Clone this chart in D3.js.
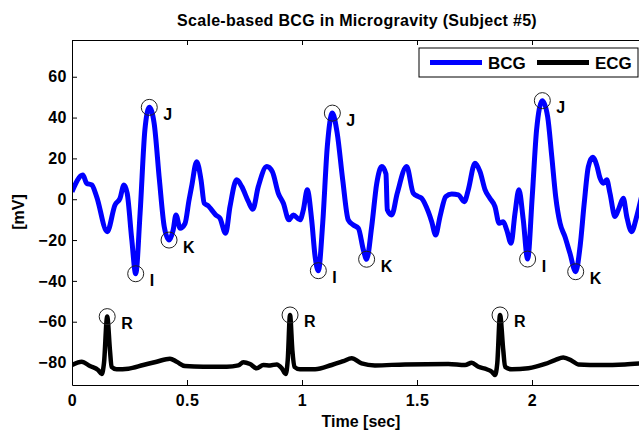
<!DOCTYPE html>
<html>
<head>
<meta charset="utf-8">
<script src="https://cdn.jsdelivr.net/npm/d3@7"></script>
<style>
  body { margin: 0; background: #fff; }
  svg text { font-family: "Liberation Sans", Arial, Helvetica, sans-serif; font-weight: bold; fill: #000; }
</style>
</head>
<body>
<script>
// time [sec], value [mV]
const bcgPoints = [
  [0, 3.7], [0.047, 11.9], [0.064, 7.8], [0.086, 7.0], [0.107, 1.3], [0.153, -15.9],
  [0.187, -2.8], [0.209, 0.5], [0.226, 7.0], [0.240, 2.9], [0.260, -19.9], [0.277, -36.5],
  [0.296, -6.9], [0.317, 34.0], [0.336, 45.0], [0.357, 37.3], [0.380, 9.5], [0.401, -13.4],
  [0.422, -20.0], [0.440, -15.0], [0.452, -7.7], [0.470, -14.2], [0.491, -12.0], [0.509, -0.3],
  [0.520, 6.2], [0.542, 18.4], [0.561, 9.5], [0.575, -2.0], [0.593, -3.3], [0.607, -5.2],
  [0.625, -7.7], [0.643, -9.3], [0.668, -16.7], [0.687, -3.6], [0.716, 9.5], [0.738, 6.2],
  [0.767, -1.2], [0.786, -4.9], [0.810, 6.2], [0.847, 16.0], [0.871, 13.5], [0.897, 2.9],
  [0.919, -2.0], [0.943, -10.1], [0.962, -7.7], [0.991, -10.1], [1.006, -5.2], [1.023, 4.6],
  [1.042, -10.1], [1.057, -28.1], [1.071, -35.0], [1.090, -11.8], [1.110, 25.8], [1.132, 42.2],
  [1.153, 32.4], [1.177, 9.5], [1.201, -10.1], [1.223, -12.6], [1.245, -14.2], [1.267, -24.9],
  [1.281, -29.4], [1.303, -13.4], [1.325, 7.8], [1.347, 16.0], [1.365, 12.4], [1.371, -5.2],
  [1.390, -7.7], [1.414, 2.9], [1.455, 16.0], [1.484, 2.9], [1.506, 1.3], [1.520, 0.5],
  [1.549, -6.1], [1.564, -11.0], [1.581, -17.5], [1.600, -8.5], [1.625, 1.3], [1.651, 2.6],
  [1.680, 2.1], [1.706, -1.2], [1.723, 4.6], [1.752, 17.6], [1.774, 13.5], [1.796, 4.6],
  [1.817, 0.5], [1.839, -3.6], [1.857, -11.8], [1.875, -11.0], [1.890, -15.0], [1.909, -21.6],
  [1.926, -6.9], [1.943, 4.6], [1.962, -10.1], [1.981, -29.3], [2.001, 1.3], [2.020, 34.0],
  [2.045, 48.3], [2.068, 40.5], [2.086, 20.9], [2.103, 1.3], [2.122, -11.8], [2.143, -18.3],
  [2.165, -26.5], [2.190, -35.5], [2.209, -23.2], [2.227, -2.0], [2.245, 16.0], [2.264, 20.6],
  [2.281, 16.8], [2.296, 10.3], [2.310, 7.8], [2.325, 9.5], [2.339, 2.9], [2.361, -8.5],
  [2.378, -4.4], [2.397, 0.5], [2.412, -8.5], [2.433, -15.9], [2.455, -8.5], [2.478, 2.1]
]

const ecgPoints = [
  [0, -81.2], [0.042, -79.6], [0.078, -81.7], [0.114, -83.7], [0.129, -85.6], [0.139, -80.4],
  [0.153, -57.5], [0.165, -73.9], [0.172, -82.1], [0.194, -83.3], [0.245, -83.0], [0.310, -81.2],
  [0.368, -79.6], [0.426, -78.1], [0.455, -79.6], [0.491, -81.7], [0.571, -82.1], [0.673, -82.1],
  [0.723, -81.4], [0.745, -79.8], [0.774, -80.7], [0.803, -82.8], [0.832, -81.2], [0.861, -81.4],
  [0.890, -80.9], [0.912, -82.8], [0.929, -85.6], [0.938, -78.8], [0.948, -56.7], [0.958, -73.9],
  [0.967, -82.1], [0.991, -83.3], [1.057, -83.3], [1.129, -81.2], [1.180, -79.3], [1.216, -77.9],
  [1.259, -80.4], [1.317, -81.4], [1.448, -80.9], [1.636, -80.7], [1.709, -81.2], [1.738, -80.1],
  [1.767, -82.1], [1.803, -83.3], [1.825, -84.5], [1.839, -86.1], [1.849, -80.4], [1.861, -56.7],
  [1.875, -73.9], [1.883, -82.1], [1.912, -83.3], [1.984, -82.8], [2.057, -80.7], [2.100, -78.8],
  [2.136, -77.5], [2.173, -79.1], [2.201, -80.9], [2.303, -81.2], [2.404, -80.9], [2.478, -80.4]
]

// circled points
const peakLabels = ['J', 'I', 'K', 'J', 'I', 'K', 'J', 'I', 'K', 'R', 'R', 'R']
const peakTimes = [0.336, 0.277, 0.422, 1.132, 1.071, 1.281, 2.045, 1.981, 2.190, 0.153, 0.948, 1.861]
const peakValues = [45.0, -36.5, -20.0, 42.2, -35.0, -29.4, 48.3, -29.3, -35.5, -57.5, -56.7, -56.7]

const xTicks = [0, 0.5, 1, 1.5, 2]
const yTicks = [-80, -60, -40, -20, 0, 20, 40, 60]
const seriesNames = ['BCG', 'ECG']
const seriesColors = ['#0000ff', '#000000']

const W = 639, H = 430
const mLeft = 72, mTop = 40, mRight = 647, mBottom = 385

const svg = d3.select('body').append('svg')
    .attr('width', W)
    .attr('height', H)

const x = d3.scaleLinear().domain([0, 2.5]).range([mLeft, mRight])
const y = d3.scaleLinear().domain([-91, 78]).range([mBottom, mTop])

svg.append('defs').append('clipPath')
    .attr('id', 'plotclip')
    .append('rect')
    .attr('x', mLeft).attr('y', mTop)
    .attr('width', mRight - mLeft).attr('height', mBottom - mTop)

const line = d3.line()
    .x(d => x(d[0]))
    .y(d => y(d[1]))
    .curve(d3.curveMonotoneX)

const plot = svg.append('g').attr('clip-path', 'url(#plotclip)')

plot.append('path')
    .datum(ecgPoints)
    .attr('d', line)
    .attr('fill', 'none')
    .attr('stroke', seriesColors[1])
    .attr('stroke-width', 4.5)
    .attr('stroke-linejoin', 'round')

plot.append('path')
    .datum(bcgPoints)
    .attr('d', line)
    .attr('fill', 'none')
    .attr('stroke', seriesColors[0])
    .attr('stroke-width', 5)
    .attr('stroke-linejoin', 'round')

// axes, matlab style ticks inside
const xAxis = svg.append('g')
    .attr('transform', `translate(0,${mBottom})`)
    .call(d3.axisBottom(x).tickValues(xTicks).tickFormat(d3.format('')).tickSizeInner(-5).tickSizeOuter(0).tickPadding(10))

svg.append('g')
    .attr('transform', `translate(0,${mTop})`)
    .call(d3.axisTop(x).tickValues(xTicks).tickFormat('').tickSizeInner(-5).tickSizeOuter(0))

const yAxis = svg.append('g')
    .attr('transform', `translate(${mLeft},0)`)
    .call(d3.axisLeft(y).tickValues(yTicks).tickSizeInner(-5).tickSizeOuter(0).tickPadding(5))

svg.selectAll('.domain').attr('stroke', '#000').attr('stroke-width', 1)
svg.selectAll('.tick line').attr('stroke', '#000')
svg.selectAll('.tick text').style('font-size', '16px').style('letter-spacing', '0.5px').attr('fill', '#000')
xAxis.selectAll('.tick text').attr('dy', '0.68em')

// circles + letters
const peaks = peakTimes.map((t, i) => ({ t: t, v: peakValues[i], label: peakLabels[i] }))

svg.selectAll('circle.peak')
    .data(peaks)
    .enter()
    .append('circle')
    .attr('class', 'peak')
    .attr('cx', d => x(d.t))
    .attr('cy', d => y(d.v))
    .attr('r', 8)
    .attr('fill', 'none')
    .attr('stroke', '#222')
    .attr('stroke-width', 1)

svg.selectAll('text.peak')
    .data(peaks)
    .enter()
    .append('text')
    .attr('class', 'peak')
    .attr('x', d => x(d.t) + 14)
    .attr('y', d => y(d.v) + 12.5)
    .style('font-size', '16px')
    .text(d => d.label)

// title and labels
svg.append('text')
    .attr('x', 357)
    .attr('y', 26)
    .attr('text-anchor', 'middle')
    .style('font-size', '16px')
    .style('letter-spacing', '0.3px')
    .text('Scale-based BCG in Microgravity (Subject #5)')

svg.append('text')
    .attr('x', 361)
    .attr('y', 427)
    .attr('text-anchor', 'middle')
    .style('font-size', '16px')
    .text('Time [sec]')

svg.append('text')
    .attr('transform', 'translate(24,212) rotate(-90)')
    .attr('text-anchor', 'middle')
    .style('font-size', '16px')
    .text('[mV]')

// legend
const legend = svg.append('g')

legend.append('rect')
    .attr('x', 419).attr('y', 48)
    .attr('width', 219).attr('height', 29)
    .attr('fill', '#fff')
    .attr('stroke', '#000')
    .attr('stroke-width', 1)

seriesNames.forEach(function(name, i){
    const lx = 430 + i * 107
    legend.append('line')
        .attr('x1', lx).attr('x2', lx + 52)
        .attr('y1', 62.5).attr('y2', 62.5)
        .attr('stroke', seriesColors[i])
        .attr('stroke-width', 5)
    legend.append('text')
        .attr('x', lx + 58)
        .attr('y', 69)
        .style('font-size', '17px')
        .text(name)
})
</script>
</body>
</html>
